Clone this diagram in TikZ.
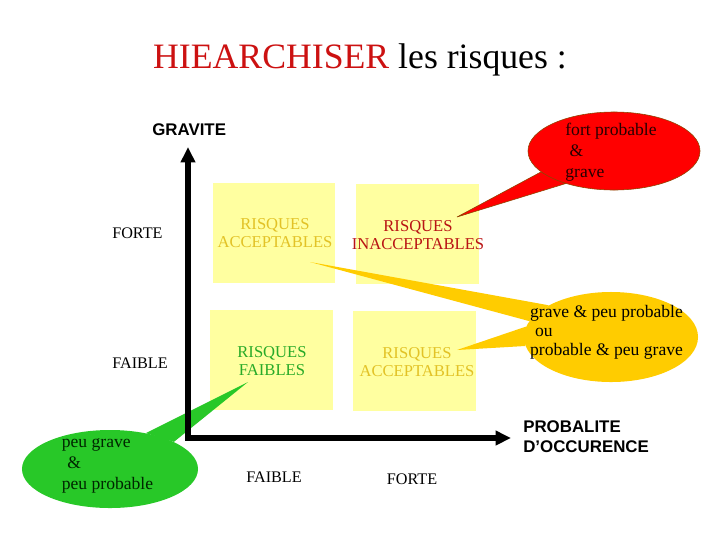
\documentclass[tikz,border=0pt]{standalone}
\usepackage{fontspec}
\setmainfont{Liberation Serif}
\setsansfont{Liberation Sans}
\usetikzlibrary{arrows.meta,shapes.geometric}
\pgfdeclarelayer{back}
\pgfdeclarelayer{mid}
\pgfsetlayers{back,mid,main}

\definecolor{titlered}{RGB}{204,17,17}
\definecolor{cellyellow}{RGB}{255,255,160}
\definecolor{riskgold}{RGB}{226,194,38}
\definecolor{riskred}{RGB}{185,20,20}
\definecolor{riskgreen}{RGB}{40,170,40}
\definecolor{bubred}{RGB}{255,0,0}
\definecolor{bubredline}{RGB}{140,70,0}
\definecolor{buborange}{RGB}{255,204,0}
\definecolor{bubgreen}{RGB}{40,200,40}

\begin{document}
\begin{tikzpicture}[
  x = 0.025cm, y = -0.025cm,
  every node/.style = {inner sep=0pt},
  title/.style  = {font=\fontsize{25.4}{30}\selectfont, anchor=base},
  cell/.style   = {fill=cellyellow, minimum width=3.05cm, minimum height=2.5cm},
  risk/.style   = {font=\fontsize{11.8}{12.8}\selectfont, align=center},
  axlbl/.style  = {font=\sffamily\bfseries\fontsize{12}{14.2}\selectfont,
                   align=left, anchor=west},
  tick/.style   = {font=\fontsize{11.5}{13}\selectfont},
  bubble/.style = {ellipse, inner sep=0pt},
  say/.style    = {font=\fontsize{12.5}{15}\selectfont, align=left, text=black!85!red},
  axis/.style   = {line width=3.6pt, miter limit=10,
                   {Triangle[length=11pt,width=10pt]}-{Triangle[length=11pt,width=10pt]}},
]
\useasboundingbox (0,0) rectangle (720,540);

\node[title] (title) at (360,68) {\textcolor{titlered}{HIEARCHISER} les risques :};

% --- Axes ------------------------------------------------------------------
\coordinate (origin) at (188,438);
\coordinate (ytip) at (188,147);
\coordinate (xtip) at (511,438);
\draw[axis] (ytip) -- (origin) -- (xtip);

\node[axlbl] (grav) at (152,130) {GRAVITE};
\node[axlbl] (prob) at (523,437) {PROBALITE\\D'OCCURENCE};

\node[tick, anchor=west] (yhigh) at (112,233) {FORTE};
\node[tick, anchor=west] (ylow)  at (112,363) {FAIBLE};
\node[tick] (xlow)  at (274,477) {FAIBLE};
\node[tick] (xhigh) at (412,479) {FORTE};

% --- Risk matrix -----------------------------------------------------------
\begin{pgfonlayer}{back}
  \node[cell] (c11) at (274,233) {};
  \node[cell] (c12) at (417.5,234) {};
  \node[cell] (c21) at (271.5,360) {};
  \node[cell] (c22) at (414.5,361) {};
\end{pgfonlayer}

\node[risk, text=riskgold]  (r11) at (275,233) {RISQUES\\ACCEPTABLES};
\node[risk, text=riskred]   (r12) at (418,235) {RISQUES\\INACCEPTABLES};
\node[risk, text=riskgreen] (r21) at (272,361) {RISQUES\\FAIBLES};
\node[risk, text=riskgold]  (r22) at (417,362) {RISQUES\\ACCEPTABLES};

% --- Callouts --------------------------------------------------------------
\node[bubble, fill=bubred, draw=bubredline, thin,
      minimum width=4.3cm, minimum height=1.95cm] (redcall) at (614,151) {};
\node[bubble, fill=buborange,
      minimum width=4.35cm, minimum height=2.25cm] (orangecall) at (611,337) {};
\node[bubble, fill=bubgreen,
      minimum width=4.4cm, minimum height=1.95cm] (greencall) at (110,469) {};

\coordinate (redtip) at (457,217);
\coordinate (orangetipa) at (310,262);
\coordinate (orangetipb) at (457,350);
\coordinate (greentip) at (248,382);

\begin{pgfonlayer}{mid}
  \filldraw[fill=bubred, draw=bubredline, thin]
    (redcall.196) -- (redtip) -- (redcall.214) -- cycle;
  \fill[buborange] (orangecall.153) -- (orangetipa) -- (orangecall.169) -- cycle;
  \fill[buborange] (orangecall.173) -- (orangetipb) -- (orangecall.186) -- cycle;
  \fill[bubgreen] (greencall.45) -- (greentip) -- (greencall.23) -- cycle;
\end{pgfonlayer}

\node[say] (redtxt) at (611,152) {fort probable\\\hspace*{3pt}\&\\grave};
\node[say, font=\fontsize{12.5}{13.5}\selectfont, text=black]
  (orangetxt) at (606.5,332) {grave \& peu probable\\\hspace*{3.5pt}ou\\probable \& peu grave};
\node[say, text=black!85!green] (greentxt) at (107.5,466) {peu grave\\\hspace*{4pt}\&\\peu probable};

\end{tikzpicture}
\end{document}
